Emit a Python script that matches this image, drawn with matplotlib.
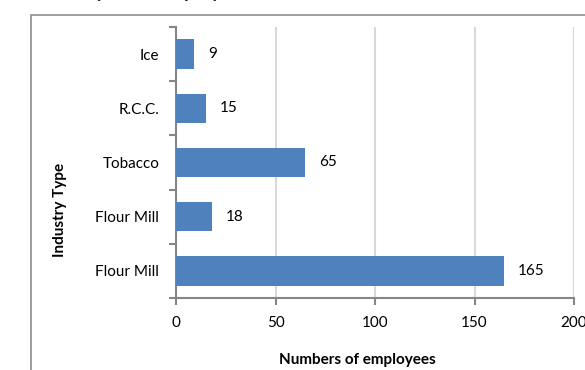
import matplotlib.pyplot as plt
from matplotlib.patches import Rectangle

# data (bottom to top as drawn)
industries = ['Flour Mill', 'Flour Mill', 'Tobacco', 'R.C.C.', 'Ice']
employees = [165, 18, 65, 15, 9]
x_ticks = [0, 50, 100, 150, 200]

plt.rcParams['font.family'] = ['Lato', 'DejaVu Sans']

fig = plt.figure(figsize=(5.85, 3.7), dpi=100)
ax = fig.add_axes([176 / 585, 1 - 298 / 370, (574 - 176) / 585, (298 - 27) / 370])

# chart border (cropped screenshot of an Excel chart)
fig.patches.append(Rectangle((31 / 585, -0.1), 1.2, 1 - 15 / 370 + 0.1,
                             transform=fig.transFigure, fill=False,
                             edgecolor='#8c8c8c', linewidth=1.2))

# title, mostly cut off at the very top
fig.text(33 / 585, 1 + 2 / 370, 'Industry-wise employees in 1961', fontsize=14,
         fontweight='bold', color='#262626', ha='left', va='baseline')

pos = range(len(industries))
bars = ax.barh(pos, employees, height=0.54, color='#4f81bd', zorder=3)
for p, v in zip(pos, employees):
    ax.annotate(str(v), (v, p), xytext=(10, 0), textcoords='offset points',
                ha='left', va='center', fontsize=11, color='black')

ax.set_xlim(0, 200)
ax.set_ylim(-0.5, len(industries) - 0.5)
ax.set_xticks(x_ticks)
ax.set_xticklabels([str(t) for t in x_ticks])
ax.set_yticks([p - 0.5 for p in range(len(industries) + 1)], minor=False)
ax.set_yticklabels([])
ax.set_yticks(list(pos), minor=True)
ax.set_yticklabels(industries, minor=True)
ax.tick_params(axis='y', which='minor', length=0, pad=12, labelsize=11)
ax.tick_params(axis='y', which='major', length=5, width=1.5, color='#868686')
ax.tick_params(axis='x', length=5, width=1.5, color='#868686', pad=8, labelsize=11)

ax.grid(axis='x', color='#d9d9d9', linewidth=1.5, zorder=0)
for s in ['top', 'right']:
    ax.spines[s].set_visible(False)
for s in ['left', 'bottom']:
    ax.spines[s].set_color('#868686')
    ax.spines[s].set_linewidth(1.5)

fig.text(357 / 585, 1 - 360 / 370, 'Numbers of employees', ha='center', va='center',
         fontsize=11, fontweight='bold')
fig.text(60 / 585, 1 - 210 / 370, 'Industry Type', ha='center', va='center',
         rotation=90, fontsize=11, fontweight='bold')

fig.savefig('out.png', dpi=100)
